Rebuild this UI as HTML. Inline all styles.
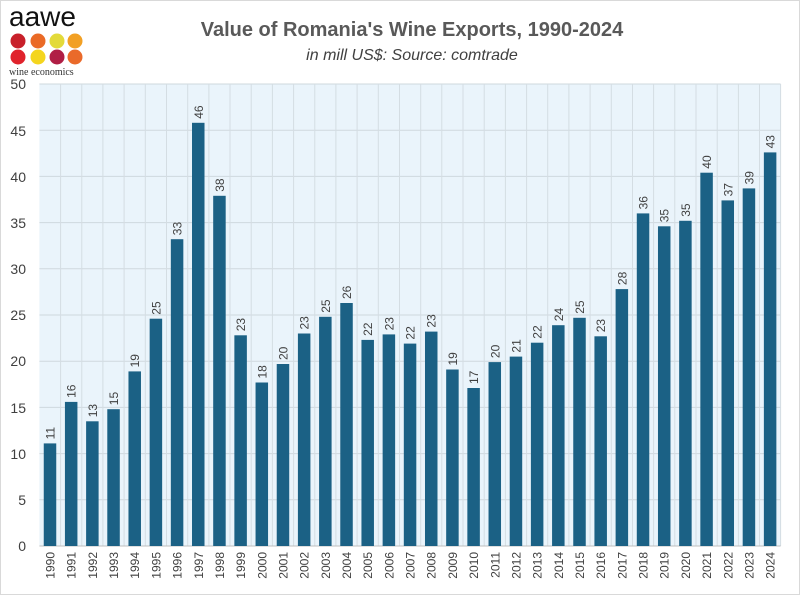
<!DOCTYPE html>
<html><head><meta charset="utf-8"><style>
body{margin:0;background:#fff}
svg{display:block;font-family:"Liberation Sans",sans-serif}
</style></head><body>
<svg width="800" height="595" viewBox="0 0 800 595">
<rect x="0.5" y="0.5" width="799" height="594" fill="#fff" stroke="#d9d9d9"/>
<text x="412" y="36" text-anchor="middle" font-size="20" font-weight="bold" fill="#595959">Value of Romania's Wine Exports, 1990-2024</text>
<text x="412" y="60" text-anchor="middle" font-size="16" font-style="italic" fill="#404040">in mill US$: Source: comtrade</text>
<text x="9" y="26" font-size="28" fill="#111">aawe</text>
<circle cx="18" cy="41" r="7.5" fill="#c8202a"/><circle cx="38" cy="41" r="7.5" fill="#ea6a26"/><circle cx="57" cy="41" r="7.5" fill="#e3da3a"/><circle cx="75" cy="41" r="7.5" fill="#f2a024"/>
<circle cx="18" cy="57" r="7.5" fill="#e0232c"/><circle cx="38" cy="57" r="7.5" fill="#f4d51e"/><circle cx="57" cy="57" r="7.5" fill="#b01e45"/><circle cx="75" cy="57" r="7.5" fill="#ea6a2a"/>
<text x="9" y="75" font-size="10" fill="#333" font-family="Liberation Serif,serif">wine economics</text>
<rect x="39.4" y="84" width="741.2" height="462" fill="#eaf4fb"/>
<g stroke="#cfd8de" stroke-width="1">
<line x1="39.4" x2="780.6" y1="84" y2="84"/><line x1="39.4" x2="780.6" y1="130.2" y2="130.2"/><line x1="39.4" x2="780.6" y1="176.4" y2="176.4"/><line x1="39.4" x2="780.6" y1="222.6" y2="222.6"/><line x1="39.4" x2="780.6" y1="268.8" y2="268.8"/><line x1="39.4" x2="780.6" y1="315" y2="315"/><line x1="39.4" x2="780.6" y1="361.2" y2="361.2"/><line x1="39.4" x2="780.6" y1="407.4" y2="407.4"/><line x1="39.4" x2="780.6" y1="453.6" y2="453.6"/><line x1="39.4" x2="780.6" y1="499.8" y2="499.8"/>
</g>
<g stroke="#d4dde3" stroke-width="1">
<line x1="60.6" x2="60.6" y1="84" y2="546"/><line x1="81.8" x2="81.8" y1="84" y2="546"/><line x1="102.9" x2="102.9" y1="84" y2="546"/><line x1="124.1" x2="124.1" y1="84" y2="546"/><line x1="145.3" x2="145.3" y1="84" y2="546"/><line x1="166.5" x2="166.5" y1="84" y2="546"/><line x1="187.7" x2="187.7" y1="84" y2="546"/><line x1="208.9" x2="208.9" y1="84" y2="546"/><line x1="230" x2="230" y1="84" y2="546"/><line x1="251.2" x2="251.2" y1="84" y2="546"/><line x1="272.4" x2="272.4" y1="84" y2="546"/><line x1="293.6" x2="293.6" y1="84" y2="546"/><line x1="314.8" x2="314.8" y1="84" y2="546"/><line x1="335.9" x2="335.9" y1="84" y2="546"/><line x1="357.1" x2="357.1" y1="84" y2="546"/><line x1="378.3" x2="378.3" y1="84" y2="546"/><line x1="399.5" x2="399.5" y1="84" y2="546"/><line x1="420.7" x2="420.7" y1="84" y2="546"/><line x1="441.8" x2="441.8" y1="84" y2="546"/><line x1="463" x2="463" y1="84" y2="546"/><line x1="484.2" x2="484.2" y1="84" y2="546"/><line x1="505.4" x2="505.4" y1="84" y2="546"/><line x1="526.6" x2="526.6" y1="84" y2="546"/><line x1="547.7" x2="547.7" y1="84" y2="546"/><line x1="568.9" x2="568.9" y1="84" y2="546"/><line x1="590.1" x2="590.1" y1="84" y2="546"/><line x1="611.3" x2="611.3" y1="84" y2="546"/><line x1="632.5" x2="632.5" y1="84" y2="546"/><line x1="653.6" x2="653.6" y1="84" y2="546"/><line x1="674.8" x2="674.8" y1="84" y2="546"/><line x1="696" x2="696" y1="84" y2="546"/><line x1="717.2" x2="717.2" y1="84" y2="546"/><line x1="738.4" x2="738.4" y1="84" y2="546"/><line x1="759.5" x2="759.5" y1="84" y2="546"/><line x1="780.6" x2="780.6" y1="84" y2="546"/>
</g>
<line x1="39.4" x2="780.6" y1="546" y2="546" stroke="#bfbfbf"/>
<g font-size="14" fill="#404040" text-anchor="end">
<text x="26" y="551">0</text><text x="26" y="505">5</text><text x="26" y="459">10</text><text x="26" y="413">15</text><text x="26" y="366">20</text><text x="26" y="320">25</text><text x="26" y="274">30</text><text x="26" y="228">35</text><text x="26" y="182">40</text><text x="26" y="136">45</text><text x="26" y="89">50</text>
</g>
<g font-size="12" fill="#404040">
<g transform="translate(50,546)"><rect x="-6.25" y="-102.6" width="12.5" height="102.6" fill="#1b6185"/><text transform="translate(4.5,-106.6) rotate(-90)">11</text><text transform="translate(4.5,6) rotate(-90)" text-anchor="end">1990</text></g>
<g transform="translate(71.18,546)"><rect x="-6.25" y="-144.1" width="12.5" height="144.1" fill="#1b6185"/><text transform="translate(4.5,-148.1) rotate(-90)">16</text><text transform="translate(4.5,6) rotate(-90)" text-anchor="end">1991</text></g>
<g transform="translate(92.36,546)"><rect x="-6.25" y="-124.7" width="12.5" height="124.7" fill="#1b6185"/><text transform="translate(4.5,-128.7) rotate(-90)">13</text><text transform="translate(4.5,6) rotate(-90)" text-anchor="end">1992</text></g>
<g transform="translate(113.54,546)"><rect x="-6.25" y="-136.8" width="12.5" height="136.8" fill="#1b6185"/><text transform="translate(4.5,-140.8) rotate(-90)">15</text><text transform="translate(4.5,6) rotate(-90)" text-anchor="end">1993</text></g>
<g transform="translate(134.72,546)"><rect x="-6.25" y="-174.6" width="12.5" height="174.6" fill="#1b6185"/><text transform="translate(4.5,-178.6) rotate(-90)">19</text><text transform="translate(4.5,6) rotate(-90)" text-anchor="end">1994</text></g>
<g transform="translate(155.9,546)"><rect x="-6.25" y="-227.3" width="12.5" height="227.3" fill="#1b6185"/><text transform="translate(4.5,-231.3) rotate(-90)">25</text><text transform="translate(4.5,6) rotate(-90)" text-anchor="end">1995</text></g>
<g transform="translate(177.08,546)"><rect x="-6.25" y="-306.8" width="12.5" height="306.8" fill="#1b6185"/><text transform="translate(4.5,-310.8) rotate(-90)">33</text><text transform="translate(4.5,6) rotate(-90)" text-anchor="end">1996</text></g>
<g transform="translate(198.26,546)"><rect x="-6.25" y="-423.2" width="12.5" height="423.2" fill="#1b6185"/><text transform="translate(4.5,-427.2) rotate(-90)">46</text><text transform="translate(4.5,6) rotate(-90)" text-anchor="end">1997</text></g>
<g transform="translate(219.44,546)"><rect x="-6.25" y="-350.2" width="12.5" height="350.2" fill="#1b6185"/><text transform="translate(4.5,-354.2) rotate(-90)">38</text><text transform="translate(4.5,6) rotate(-90)" text-anchor="end">1998</text></g>
<g transform="translate(240.62,546)"><rect x="-6.25" y="-210.7" width="12.5" height="210.7" fill="#1b6185"/><text transform="translate(4.5,-214.7) rotate(-90)">23</text><text transform="translate(4.5,6) rotate(-90)" text-anchor="end">1999</text></g>
<g transform="translate(261.8,546)"><rect x="-6.25" y="-163.5" width="12.5" height="163.5" fill="#1b6185"/><text transform="translate(4.5,-167.5) rotate(-90)">18</text><text transform="translate(4.5,6) rotate(-90)" text-anchor="end">2000</text></g>
<g transform="translate(282.98,546)"><rect x="-6.25" y="-182" width="12.5" height="182" fill="#1b6185"/><text transform="translate(4.5,-186) rotate(-90)">20</text><text transform="translate(4.5,6) rotate(-90)" text-anchor="end">2001</text></g>
<g transform="translate(304.16,546)"><rect x="-6.25" y="-212.5" width="12.5" height="212.5" fill="#1b6185"/><text transform="translate(4.5,-216.5) rotate(-90)">23</text><text transform="translate(4.5,6) rotate(-90)" text-anchor="end">2002</text></g>
<g transform="translate(325.34,546)"><rect x="-6.25" y="-229.2" width="12.5" height="229.2" fill="#1b6185"/><text transform="translate(4.5,-233.2) rotate(-90)">25</text><text transform="translate(4.5,6) rotate(-90)" text-anchor="end">2003</text></g>
<g transform="translate(346.52,546)"><rect x="-6.25" y="-243" width="12.5" height="243" fill="#1b6185"/><text transform="translate(4.5,-247) rotate(-90)">26</text><text transform="translate(4.5,6) rotate(-90)" text-anchor="end">2004</text></g>
<g transform="translate(367.7,546)"><rect x="-6.25" y="-206.1" width="12.5" height="206.1" fill="#1b6185"/><text transform="translate(4.5,-210.1) rotate(-90)">22</text><text transform="translate(4.5,6) rotate(-90)" text-anchor="end">2005</text></g>
<g transform="translate(388.88,546)"><rect x="-6.25" y="-211.6" width="12.5" height="211.6" fill="#1b6185"/><text transform="translate(4.5,-215.6) rotate(-90)">23</text><text transform="translate(4.5,6) rotate(-90)" text-anchor="end">2006</text></g>
<g transform="translate(410.06,546)"><rect x="-6.25" y="-202.4" width="12.5" height="202.4" fill="#1b6185"/><text transform="translate(4.5,-206.4) rotate(-90)">22</text><text transform="translate(4.5,6) rotate(-90)" text-anchor="end">2007</text></g>
<g transform="translate(431.24,546)"><rect x="-6.25" y="-214.4" width="12.5" height="214.4" fill="#1b6185"/><text transform="translate(4.5,-218.4) rotate(-90)">23</text><text transform="translate(4.5,6) rotate(-90)" text-anchor="end">2008</text></g>
<g transform="translate(452.42,546)"><rect x="-6.25" y="-176.5" width="12.5" height="176.5" fill="#1b6185"/><text transform="translate(4.5,-180.5) rotate(-90)">19</text><text transform="translate(4.5,6) rotate(-90)" text-anchor="end">2009</text></g>
<g transform="translate(473.6,546)"><rect x="-6.25" y="-158" width="12.5" height="158" fill="#1b6185"/><text transform="translate(4.5,-162) rotate(-90)">17</text><text transform="translate(4.5,6) rotate(-90)" text-anchor="end">2010</text></g>
<g transform="translate(494.78,546)"><rect x="-6.25" y="-183.9" width="12.5" height="183.9" fill="#1b6185"/><text transform="translate(4.5,-187.9) rotate(-90)">20</text><text transform="translate(4.5,6) rotate(-90)" text-anchor="end">2011</text></g>
<g transform="translate(515.96,546)"><rect x="-6.25" y="-189.4" width="12.5" height="189.4" fill="#1b6185"/><text transform="translate(4.5,-193.4) rotate(-90)">21</text><text transform="translate(4.5,6) rotate(-90)" text-anchor="end">2012</text></g>
<g transform="translate(537.14,546)"><rect x="-6.25" y="-203.3" width="12.5" height="203.3" fill="#1b6185"/><text transform="translate(4.5,-207.3) rotate(-90)">22</text><text transform="translate(4.5,6) rotate(-90)" text-anchor="end">2013</text></g>
<g transform="translate(558.32,546)"><rect x="-6.25" y="-220.8" width="12.5" height="220.8" fill="#1b6185"/><text transform="translate(4.5,-224.8) rotate(-90)">24</text><text transform="translate(4.5,6) rotate(-90)" text-anchor="end">2014</text></g>
<g transform="translate(579.5,546)"><rect x="-6.25" y="-228.2" width="12.5" height="228.2" fill="#1b6185"/><text transform="translate(4.5,-232.2) rotate(-90)">25</text><text transform="translate(4.5,6) rotate(-90)" text-anchor="end">2015</text></g>
<g transform="translate(600.68,546)"><rect x="-6.25" y="-209.7" width="12.5" height="209.7" fill="#1b6185"/><text transform="translate(4.5,-213.7) rotate(-90)">23</text><text transform="translate(4.5,6) rotate(-90)" text-anchor="end">2016</text></g>
<g transform="translate(621.86,546)"><rect x="-6.25" y="-256.9" width="12.5" height="256.9" fill="#1b6185"/><text transform="translate(4.5,-260.9) rotate(-90)">28</text><text transform="translate(4.5,6) rotate(-90)" text-anchor="end">2017</text></g>
<g transform="translate(643.04,546)"><rect x="-6.25" y="-332.6" width="12.5" height="332.6" fill="#1b6185"/><text transform="translate(4.5,-336.6) rotate(-90)">36</text><text transform="translate(4.5,6) rotate(-90)" text-anchor="end">2018</text></g>
<g transform="translate(664.22,546)"><rect x="-6.25" y="-319.7" width="12.5" height="319.7" fill="#1b6185"/><text transform="translate(4.5,-323.7) rotate(-90)">35</text><text transform="translate(4.5,6) rotate(-90)" text-anchor="end">2019</text></g>
<g transform="translate(685.4,546)"><rect x="-6.25" y="-325.2" width="12.5" height="325.2" fill="#1b6185"/><text transform="translate(4.5,-329.2) rotate(-90)">35</text><text transform="translate(4.5,6) rotate(-90)" text-anchor="end">2020</text></g>
<g transform="translate(706.58,546)"><rect x="-6.25" y="-373.3" width="12.5" height="373.3" fill="#1b6185"/><text transform="translate(4.5,-377.3) rotate(-90)">40</text><text transform="translate(4.5,6) rotate(-90)" text-anchor="end">2021</text></g>
<g transform="translate(727.76,546)"><rect x="-6.25" y="-345.6" width="12.5" height="345.6" fill="#1b6185"/><text transform="translate(4.5,-349.6) rotate(-90)">37</text><text transform="translate(4.5,6) rotate(-90)" text-anchor="end">2022</text></g>
<g transform="translate(748.94,546)"><rect x="-6.25" y="-357.6" width="12.5" height="357.6" fill="#1b6185"/><text transform="translate(4.5,-361.6) rotate(-90)">39</text><text transform="translate(4.5,6) rotate(-90)" text-anchor="end">2023</text></g>
<g transform="translate(770.12,546)"><rect x="-6.25" y="-393.6" width="12.5" height="393.6" fill="#1b6185"/><text transform="translate(4.5,-397.6) rotate(-90)">43</text><text transform="translate(4.5,6) rotate(-90)" text-anchor="end">2024</text></g>
</g>
</svg>
</body></html>
